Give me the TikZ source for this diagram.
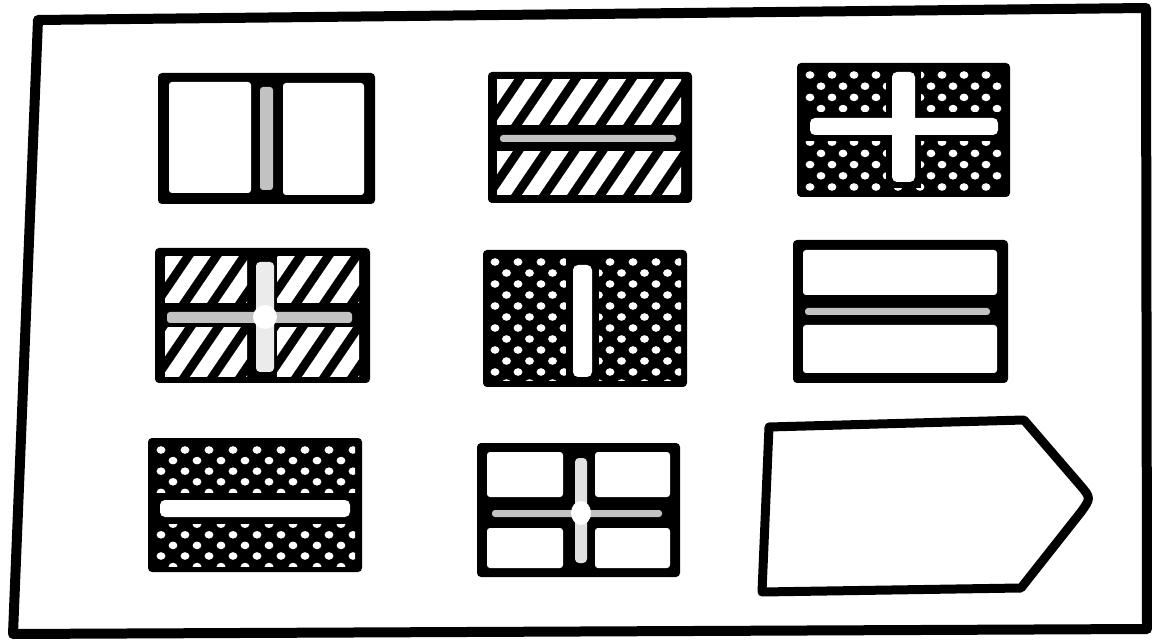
\documentclass[tikz,border=0pt]{standalone}
\usepackage{tikz}
\tikzset{
  frameline/.style={draw=black, line width=10pt, line join=round},
  flagbg/.style={fill=black, rounded corners=4pt},
  pane/.style={fill=white, rounded corners=3pt},
  graybar/.style={fill=black!24, rounded corners=3pt},
  whitebar/.style={fill=white, rounded corners=5pt},
  blackbar/.style={fill=black},
  shapeline/.style={draw=black, line width=9pt, line join=round}
}
\newcommand\flagdots[6]{%
  \begin{scope}
    \clip (#1,#2) rectangle (#3,#4);
    \foreach \j in {0,...,13} {
      \foreach \i in {0,...,10} {
        \fill[white] ({#1+5+\i*#5+mod(\j,2)*#5/2},{#2+5+\j*#6}) ellipse (4.4pt and 3.8pt);
      }
    }
  \end{scope}}
\newcommand\flaghatch[4]{%
  \begin{scope}
    \clip (#1,#2) rectangle (#3,#4);
    \foreach \k in {-3,...,9} {
      \draw[white, line width=14pt] ({#1+\k*28},{#4+8}) -- ++(68,-100);
    }
  \end{scope}}
\begin{document}
\begin{tikzpicture}[x=1pt,y=-1pt]
\useasboundingbox[fill=white] (0,0) rectangle (1152,644);
% outer frame
\draw[frameline] (38,20) -- (1146,8) -- (1147,629) -- (13,634) -- cycle;

% flag 1 (row 1, col 1)
\fill[flagbg] (158,73) rectangle (375,204);
\fill[pane] (169,82) rectangle (251,193);
\fill[pane] (283,83) rectangle (364,195);
\fill[graybar] (260,87) rectangle (273,190);

% flag 2 (row 1, col 2)
\fill[flagbg] (488,72) rectangle (692,203);
\flaghatch{497}{80}{681}{125}
\flaghatch{497}{152}{681}{195}
\fill[graybar] (500,135) rectangle (676,142);

% flag 3 (row 1, col 3)
\fill[flagbg] (797,63) rectangle (1010,197);
\flagdots{805}{70}{1003}{191}{22}{11.2}
\fill[blackbar] (886,66) rectangle (921,188);
\fill[blackbar] (804,112) rectangle (1004,141);
\fill[whitebar] (892,72) rectangle (915,182);
\fill[whitebar] (810,118) rectangle (998,135);

% flag 4 (row 2, col 1)
\fill[flagbg] (155,248) rectangle (370,383);
\flaghatch{165}{257}{247}{303}
\flaghatch{277}{257}{359}{303}
\flaghatch{165}{328}{247}{377}
\flaghatch{277}{328}{359}{377}
\fill[graybar] (167,312) rectangle (352,323);
\fill[fill=black!8, rounded corners=4pt] (256,262) rectangle (274,372);
\fill[white] (265,317) ellipse (12pt and 12pt);

% flag 5 (row 2, col 2)
\fill[flagbg] (483,250) rectangle (687,387);
\flagdots{490}{257}{681}{381}{23}{11}
\fill[blackbar] (566,256) rectangle (599,384);
\fill[whitebar] (573,265) rectangle (592,377);

% flag 6 (row 2, col 3)
\fill[flagbg] (793,240) rectangle (1008,383);
\fill[pane] (803,250) rectangle (997,295);
\fill[pane] (803,325) rectangle (997,373);
\fill[graybar] (805,308) rectangle (990,315);

% flag 7 (row 3, col 1)
\fill[flagbg] (148,438) rectangle (362,572);
\flagdots{156}{445}{355}{566}{24}{10.6}
\fill[blackbar] (155,493) rectangle (356,524);
\fill[whitebar] (160,500) rectangle (350,517);

% flag 8 (row 3, col 2)
\fill[flagbg] (477,443) rectangle (680,577);
\fill[pane] (487,452) rectangle (563,497);
\fill[pane] (595,452) rectangle (670,497);
\fill[pane] (487,528) rectangle (563,568);
\fill[pane] (595,528) rectangle (670,568);
\fill[graybar] (492,510) rectangle (662,517);
\fill[fill=black!12, rounded corners=4pt] (575,458) rectangle (587,563);
\fill[white] (581,513) ellipse (10pt and 12pt);

% shape 9 (row 3, col 3)
\draw[shapeline] (769,427) -- (1024,420) -- (1080,485)
  .. controls (1091,498) .. (1081,512) -- (1021,588) -- (762,592) -- cycle;
\end{tikzpicture}
\end{document}
